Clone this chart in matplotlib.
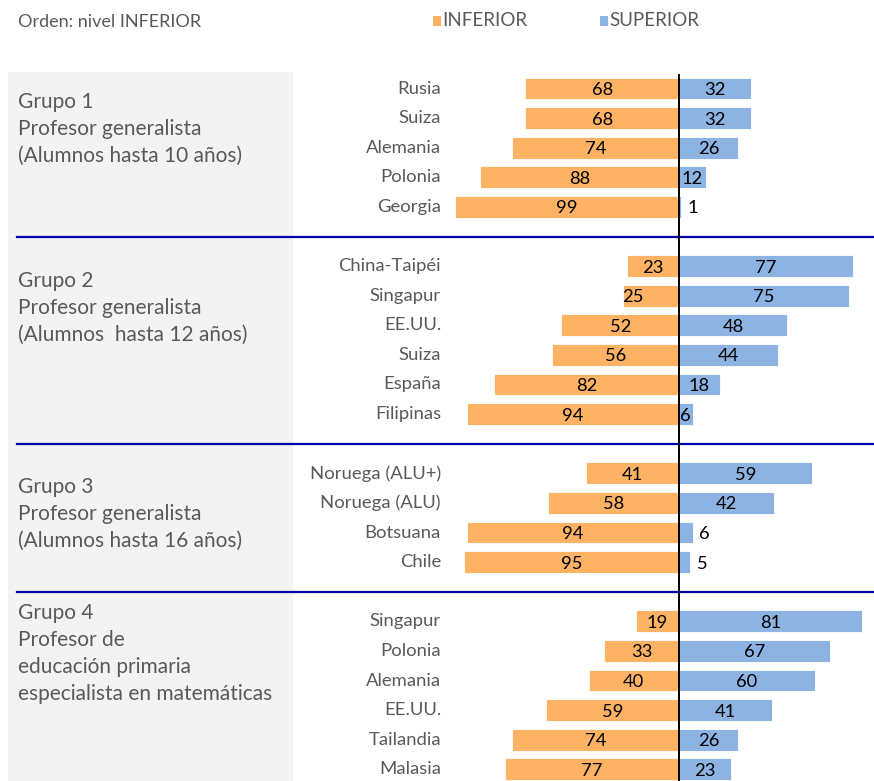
import matplotlib
matplotlib.use("Agg")
import matplotlib.pyplot as plt
from matplotlib.patches import Rectangle

# ---------------- data ----------------
grupo1_paises = ["Rusia", "Suiza", "Alemania", "Polonia", "Georgia"]
grupo1_inferior = [68, 68, 74, 88, 99]
grupo1_superior = [32, 32, 26, 12, 1]

grupo2_paises = ["China-Taipéi", "Singapur", "EE.UU.", "Suiza", "España", "Filipinas"]
grupo2_inferior = [23, 25, 52, 56, 82, 94]
grupo2_superior = [77, 75, 48, 44, 18, 6]

grupo3_paises = ["Noruega (ALU+)", "Noruega (ALU)", "Botsuana", "Chile"]
grupo3_inferior = [41, 58, 94, 95]
grupo3_superior = [59, 42, 6, 5]

grupo4_paises = ["Singapur", "Polonia", "Alemania", "EE.UU.", "Tailandia", "Malasia"]
grupo4_inferior = [19, 33, 40, 59, 74, 77]
grupo4_superior = [81, 67, 60, 41, 26, 23]

grupo_titulos = [
    ["Grupo 1", "Profesor generalista", "(Alumnos hasta 10 años)"],
    ["Grupo 2", "Profesor generalista", "(Alumnos  hasta 12 años)"],
    ["Grupo 3", "Profesor generalista", "(Alumnos hasta 16 años)"],
    ["Grupo 4", "Profesor de", "educación primaria", "especialista en matemáticas"],
]

serie_nombres = ["INFERIOR", "SUPERIOR"]
titulo = "Orden: nivel INFERIOR"

# ---------------- style ----------------
FONT = "Lato"
C_INF = "#FDB264"
C_SUP = "#8DB3E2"
C_TXT = "#595959"
C_SEP = "#0000A8"
C_BOX = "#F3F3F3"

W, H = 874, 781
fig = plt.figure(figsize=(W / 100, H / 100), dpi=100)
ax = fig.add_axes([0, 0, 1, 1])
ax.axis("off")

PX_PER_UNIT = 2.26
X0_PX = 679
ROW0_PX = 88.5
ROW_PX = 29.6
ax.set_xlim(-X0_PX / PX_PER_UNIT, (W - X0_PX) / PX_PER_UNIT)
ax.set_ylim((H - ROW0_PX) / ROW_PX, -ROW0_PX / ROW_PX)


def px_x(p):
    return (p - X0_PX) / PX_PER_UNIT


def px_y(p):
    return (p - ROW0_PX) / ROW_PX


grupos = [
    (grupo1_paises, grupo1_inferior, grupo1_superior),
    (grupo2_paises, grupo2_inferior, grupo2_superior),
    (grupo3_paises, grupo3_inferior, grupo3_superior),
    (grupo4_paises, grupo4_inferior, grupo4_superior),
]

sup_fuera = {(0, 4), (2, 2), (2, 3)}
inf_izquierda = {(1, 1)}

titulo_offset = [0.47, 0.5, 0.47, -0.27]
LINE = 0.91

FS_PAIS = 13.3
FS_VAL = 13.2
FS_GRUPO = 15

ax.add_patch(Rectangle((px_x(8), px_y(72)), px_x(293) - px_x(8), px_y(H + 5) - px_y(72),
                       facecolor=C_BOX, edgecolor="none", zorder=0))

start = 0
for gi, (paises, inf, sup) in enumerate(grupos):
    ys = [start + i for i in range(len(paises))]
    ax.barh(ys, [-v for v in inf], height=0.74, color=C_INF, edgecolor="white",
            linewidth=0.6, zorder=2)
    ax.barh(ys, sup, height=0.74, color=C_SUP, edgecolor="white", linewidth=0.6, zorder=2)
    for i, (p, a, b) in enumerate(zip(paises, inf, sup)):
        y = ys[i]
        ax.text(px_x(441), y, p, ha="right", va="center", fontsize=FS_PAIS,
                color=C_TXT, family=FONT)
        if (gi, i) in inf_izquierda:
            ax.text(-a, y + 0.05, str(a), ha="left", va="center", fontsize=FS_VAL,
                    color="black", family=FONT, zorder=3)
        else:
            ax.text(-a / 2, y + 0.05, str(a), ha="center", va="center", fontsize=FS_VAL,
                    color="black", family=FONT, zorder=3)
        if (gi, i) in sup_fuera:
            ax.text(b + 3.0, y + 0.05, str(b), ha="left", va="center", fontsize=FS_VAL,
                    color="black", family=FONT, zorder=3)
        else:
            ax.text(b / 2, y + 0.05, str(b), ha="center", va="center", fontsize=FS_VAL,
                    color="black", family=FONT, zorder=3)
    for li, line in enumerate(grupo_titulos[gi]):
        ax.text(px_x(18), start + titulo_offset[gi] + li * LINE, line, ha="left",
                va="center", fontsize=FS_GRUPO, color=C_TXT, family=FONT)
    end = start + len(paises)
    if gi < len(grupos) - 1:
        ax.plot([px_x(17), px_x(W)], [end, end], color=C_SEP, lw=1.6, zorder=1)
    start = end + 1

ax.plot([0, 0], [px_y(75), px_y(H + 5)], color="black", lw=1.4, zorder=4)

ax.text(px_x(18), px_y(22), titulo, ha="left", va="center", fontsize=13,
        color=C_TXT, family=FONT)
for nombre, col, x0 in [(serie_nombres[0], C_INF, 433), (serie_nombres[1], C_SUP, 600)]:
    ax.add_patch(Rectangle((px_x(x0), px_y(16)), px_x(x0 + 8) - px_x(x0), px_y(26) - px_y(16),
                           facecolor=col, edgecolor="none"))
    ax.text(px_x(x0 + 9), px_y(21), nombre, ha="left", va="center", fontsize=13.5,
            color=C_TXT, family=FONT)

fig.savefig("out.png", dpi=100)
